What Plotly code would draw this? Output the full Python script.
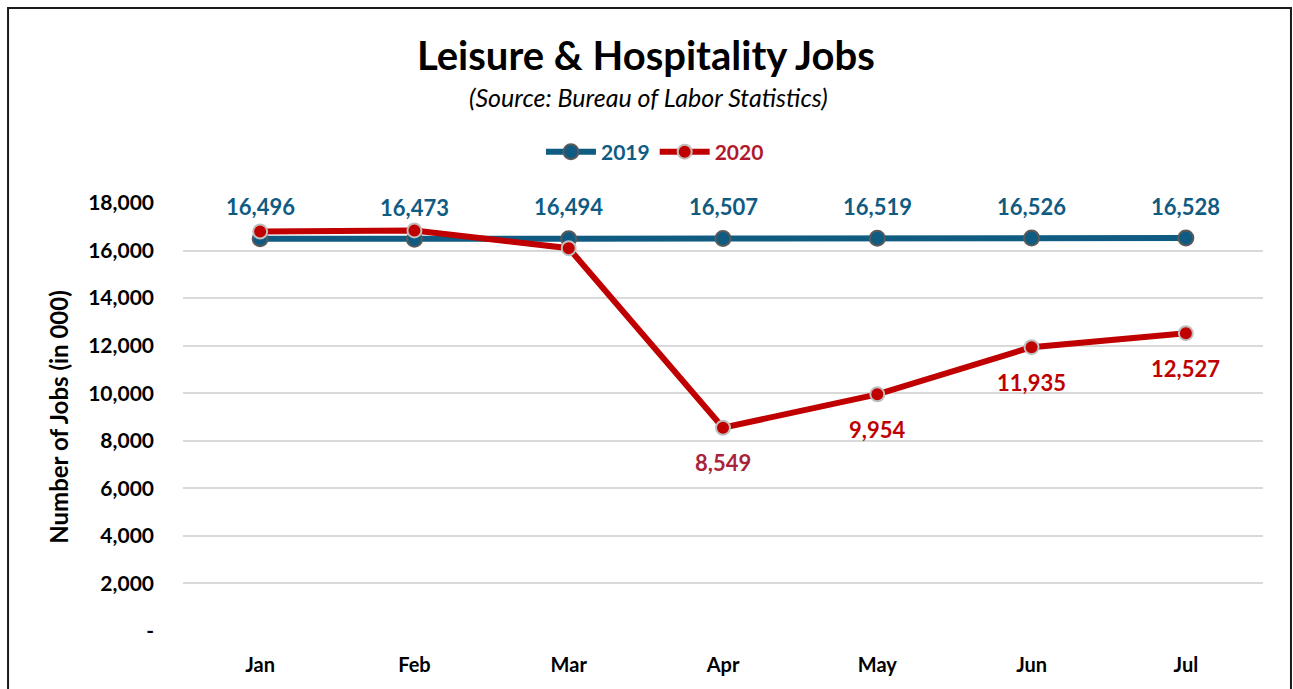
import plotly.graph_objects as go

months = ["Jan", "Feb", "Mar", "Apr", "May", "Jun", "Jul"]
jobs_2019 = [16496, 16473, 16494, 16507, 16519, 16526, 16528]
jobs_2020 = [16800, 16845, 16100, 8549, 9954, 11935, 12527]
labels_2019 = ["16,496", "16,473", "16,494", "16,507", "16,519", "16,526", "16,528"]
labels_2020 = ["", "", "", "8,549", "9,954", "11,935", "12,527"]
y_ticks = [0, 2000, 4000, 6000, 8000, 10000, 12000, 14000, 16000, 18000]

C19 = "#0F5B82"
C20 = "#C00000"
FONT = "Lato"

fig = go.Figure()
fig.add_trace(go.Scatter(
    x=months, y=jobs_2019, name=f'<span style="color:{C19}">2019</span>', mode="lines+markers",
    line=dict(color=C19, width=6),
    marker=dict(size=15, color=C19, line=dict(color="#5A5A5A", width=2)),
))
fig.add_trace(go.Scatter(
    x=months, y=jobs_2020, name='<span style="color:#B0182E">2020</span>', mode="lines+markers",
    line=dict(color=C20, width=6),
    marker=dict(size=14, color=C20, line=dict(color="#BFBFBF", width=2)),
))

annotations = []
for m, v, t in zip(months, jobs_2019, labels_2019):
    annotations.append(dict(x=m, y=v, text=f"<b>{t}</b>", showarrow=False, yshift=32,
                            xanchor="center", yanchor="middle",
                            font=dict(family=FONT, size=22, color=C19)))
for m, v, t in zip(months, jobs_2020, labels_2020):
    if t:
        col = "#A9233A" if t == "8,549" else C20
        annotations.append(dict(x=m, y=v, text=f"<b>{t}</b>", showarrow=False, yshift=-35,
                                xanchor="center", yanchor="middle",
                                font=dict(family=FONT, size=22, color=col)))

annotations.append(dict(xref="paper", yref="paper", x=0.4287, y=1.3458,
                        xanchor="center", yanchor="middle",
                        text="<b>Leisure & Hospitality Jobs</b>", showarrow=False,
                        font=dict(family=FONT, size=40, color="#000000")))
annotations.append(dict(xref="paper", yref="paper", x=0.4306, y=1.2477,
                        xanchor="center", yanchor="middle",
                        text="<i>(Source: Bureau of Labor Statistics)</i>", showarrow=False,
                        font=dict(family=FONT, size=25, color="#000000")))
annotations.append(dict(xref="paper", yref="paper", x=-0.116, y=0.5, textangle=-90,
                        xanchor="center", yanchor="middle",
                        text="<b>Number of Jobs (in 000)</b>", showarrow=False,
                        font=dict(family=FONT, size=24, color="#000000")))

tick_text = ["-" if v == 0 else f"{v:,}" for v in y_ticks]

fig.update_layout(
    width=1293, height=689,
    margin=dict(l=183, r=30, t=203, b=58),
    paper_bgcolor="white", plot_bgcolor="white",
    font=dict(family=FONT, color="#000000"),
    showlegend=True,
    legend=dict(orientation="h", x=0.437, xanchor="center", y=1.119, yanchor="middle",
                font=dict(family=FONT, size=21, weight="bold"), itemwidth=50,
                bgcolor="rgba(0,0,0,0)"),
    annotations=annotations,
    xaxis=dict(range=[-0.5, 6.5], showgrid=False, showline=False, zeroline=False, ticks="",
               tickfont=dict(family=FONT, size=20, color="#000000", weight="bold"),
               ticklabelstandoff=20, fixedrange=True),
    yaxis=dict(range=[0, 18000], tickvals=y_ticks, ticktext=tick_text,
               showgrid=True, gridcolor="#D9D9D9", gridwidth=1.5,
               zeroline=False, showline=False, ticks="",
               tickfont=dict(family=FONT, size=21, color="#000000", weight="bold"),
               ticklabelstandoff=28, fixedrange=True),
    shapes=[dict(type="rect", xref="paper", yref="paper",
                 x0=-0.162, x1=1.0259, y0=-0.2, y1=1.4556,
                 line=dict(color="#1A1A1A", width=2), fillcolor="rgba(0,0,0,0)", layer="below")],
)

fig.write_html("out.html")
